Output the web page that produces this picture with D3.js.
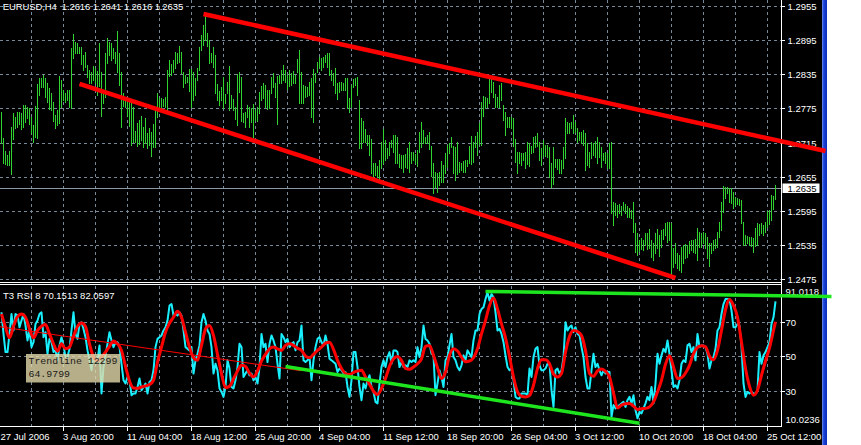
<!DOCTYPE html>
<html><head><meta charset="utf-8">
<script src="https://cdn.jsdelivr.net/npm/d3@7"></script>
<style>
html,body{margin:0;padding:0;background:#fff;overflow:hidden}
svg{display:block}
text{font-family:"Liberation Sans",Arial,sans-serif;font-size:9.5px;fill:#fff}
</style></head><body>
<svg id="c" width="861" height="445"></svg>
<script>
// ---------------- DATA ----------------
const symbolTitle = "EURUSD,H4";
const lastOHLC = [1.2616, 1.2641, 1.2616, 1.2635];
const currentPrice = 1.2635;

const highs = [1.2769,1.2723,1.2700,1.2693,1.2700,1.2742,1.2767,1.2760,1.2769,1.2769,
1.2767,1.2781,1.2781,1.2777,1.2776,1.2760,1.2746,1.2779,1.2818,1.2828,
1.2828,1.2834,1.2828,1.2820,1.2811,1.2802,1.2786,1.2763,1.2772,1.2832,
1.2825,1.2807,1.2802,1.2807,1.2807,1.2881,1.2906,1.2892,1.2890,1.2883,
1.2883,1.2869,1.2874,1.2851,1.2842,1.2839,1.2850,1.2846,1.2841,1.2890,
1.2839,1.2802,1.2872,1.2899,1.2892,1.2890,1.2881,1.2874,1.2911,1.2872,
1.2839,1.2802,1.2793,1.2790,1.2786,1.2790,1.2777,1.2735,1.2749,1.2755,
1.2762,1.2742,1.2758,1.2732,1.2741,1.2733,1.2748,1.2772,1.2802,1.2793,
1.2793,1.2792,1.2795,1.2842,1.2860,1.2853,1.2860,1.2874,1.2872,1.2885,
1.2874,1.2839,1.2834,1.2830,1.2844,1.2844,1.2839,1.2828,1.2846,1.2883,
1.2904,1.2922,1.2941,1.2908,1.2895,1.2872,1.2883,1.2869,1.2818,1.2806,
1.2813,1.2830,1.2800,1.2821,1.2850,1.2799,1.2792,1.2777,1.2835,1.2839,
1.2830,1.2767,1.2769,1.2781,1.2777,1.2776,1.2783,1.2772,1.2777,1.2804,
1.2814,1.2820,1.2816,1.2807,1.2807,1.2830,1.2837,1.2820,1.2832,1.2834,
1.2842,1.2851,1.2842,1.2834,1.2842,1.2837,1.2841,1.2834,1.2862,1.2878,
1.2839,1.2816,1.2814,1.2813,1.2821,1.2828,1.2844,1.2837,1.2857,1.2865,
1.2864,1.2865,1.2869,1.2872,1.2872,1.2842,1.2837,1.2846,1.2820,1.2821,
1.2821,1.2820,1.2828,1.2828,1.2793,1.2816,1.2827,1.2828,1.2830,1.2790,
1.2758,1.2753,1.2739,1.2728,1.2728,1.2721,1.2679,1.2679,1.2674,1.2684,
1.2716,1.2739,1.2719,1.2705,1.2716,1.2719,1.2728,1.2728,1.2725,1.2695,
1.2693,1.2693,1.2695,1.2705,1.2716,1.2698,1.2698,1.2695,1.2702,1.2733,
1.2751,1.2737,1.2725,1.2728,1.2733,1.2709,1.2679,1.2663,1.2661,1.2663,
1.2683,1.2675,1.2697,1.2711,1.2714,1.2725,1.2709,1.2707,1.2716,1.2681,
1.2679,1.2683,1.2684,1.2684,1.2709,1.2726,1.2716,1.2726,1.2733,1.2749,
1.2786,1.2797,1.2795,1.2793,1.2830,1.2830,1.2821,1.2800,1.2795,1.2816,
1.2820,1.2781,1.2769,1.2760,1.2760,1.2760,1.2758,1.2721,1.2698,1.2698,
1.2697,1.2697,1.2698,1.2716,1.2714,1.2709,1.2725,1.2726,1.2732,1.2716,
1.2705,1.2719,1.2711,1.2711,1.2707,1.2679,1.2707,1.2686,1.2686,1.2686,
1.2684,1.2707,1.2758,1.2751,1.2749,1.2751,1.2763,1.2751,1.2741,1.2733,
1.2733,1.2737,1.2732,1.2714,1.2698,1.2716,1.2714,1.2718,1.2725,1.2716,
1.2707,1.2697,1.2698,1.2697,1.2714,1.2716,1.2610,1.2609,1.2605,1.2607,
1.2603,1.2610,1.2607,1.2603,1.2600,1.2596,1.2610,1.2574,1.2556,1.2544,
1.2547,1.2544,1.2556,1.2556,1.2563,1.2544,1.2538,1.2556,1.2563,1.2552,
1.2561,1.2563,1.2574,1.2575,1.2575,1.2574,1.2530,1.2538,1.2521,1.2517,
1.2531,1.2535,1.2537,1.2535,1.2542,1.2544,1.2544,1.2545,1.2565,1.2558,
1.2556,1.2558,1.2556,1.2549,1.2538,1.2538,1.2544,1.2545,1.2558,1.2575,
1.2610,1.2639,1.2637,1.2637,1.2635,1.2635,1.2628,1.2619,1.2617,1.2616,
1.2614,1.2575,1.2552,1.2551,1.2549,1.2549,1.2547,1.2565,1.2574,1.2572,
1.2574,1.2570,1.2575,1.2595,1.2596,1.2623,1.2621,1.2641];

const lows = [1.2714,1.2679,1.2677,1.2675,1.2675,1.2660,1.2721,1.2741,1.2742,1.2748,
1.2739,1.2742,1.2751,1.2758,1.2748,1.2732,1.2716,1.2725,1.2723,1.2799,
1.2813,1.2813,1.2795,1.2786,1.2774,1.2772,1.2753,1.2741,1.2746,1.2749,
1.2777,1.2790,1.2786,1.2790,1.2777,1.2776,1.2864,1.2872,1.2872,1.2872,
1.2853,1.2842,1.2848,1.2830,1.2820,1.2820,1.2825,1.2820,1.2799,1.2814,
1.2762,1.2784,1.2795,1.2855,1.2869,1.2860,1.2864,1.2855,1.2839,1.2816,
1.2742,1.2779,1.2777,1.2762,1.2744,1.2711,1.2716,1.2716,1.2709,1.2712,
1.2719,1.2707,1.2714,1.2705,1.2711,1.2691,1.2707,1.2707,1.2760,1.2772,
1.2776,1.2779,1.2777,1.2772,1.2832,1.2834,1.2839,1.2846,1.2855,1.2857,
1.2837,1.2813,1.2820,1.2821,1.2806,1.2777,1.2790,1.2799,1.2825,1.2842,
1.2878,1.2886,1.2895,1.2885,1.2855,1.2857,1.2848,1.2802,1.2790,1.2781,
1.2790,1.2776,1.2784,1.2802,1.2772,1.2776,1.2772,1.2756,1.2746,1.2804,
1.2753,1.2751,1.2742,1.2760,1.2742,1.2751,1.2723,1.2755,1.2753,1.2767,
1.2790,1.2793,1.2777,1.2774,1.2776,1.2802,1.2813,1.2795,1.2748,1.2820,
1.2820,1.2825,1.2821,1.2809,1.2814,1.2816,1.2820,1.2820,1.2839,1.2784,
1.2784,1.2784,1.2795,1.2797,1.2799,1.2760,1.2751,1.2821,1.2839,1.2848,
1.2842,1.2848,1.2857,1.2848,1.2834,1.2825,1.2816,1.2802,1.2792,1.2804,
1.2807,1.2807,1.2807,1.2776,1.2769,1.2777,1.2813,1.2816,1.2799,1.2705,
1.2705,1.2716,1.2716,1.2711,1.2693,1.2661,1.2654,1.2658,1.2654,1.2649,
1.2670,1.2679,1.2684,1.2688,1.2693,1.2707,1.2698,1.2679,1.2679,1.2672,
1.2670,1.2663,1.2672,1.2670,1.2663,1.2679,1.2684,1.2679,1.2674,1.2698,
1.2707,1.2714,1.2714,1.2714,1.2704,1.2656,1.2626,1.2637,1.2628,1.2640,
1.2646,1.2646,1.2661,1.2672,1.2697,1.2707,1.2661,1.2649,1.2660,1.2663,
1.2667,1.2663,1.2663,1.2674,1.2679,1.2677,1.2681,1.2707,1.2693,1.2712,
1.2711,1.2762,1.2776,1.2777,1.2784,1.2804,1.2795,1.2777,1.2777,1.2777,
1.2790,1.2755,1.2728,1.2742,1.2742,1.2741,1.2709,1.2681,1.2661,1.2679,
1.2675,1.2684,1.2670,1.2677,1.2674,1.2697,1.2698,1.2707,1.2709,1.2684,
1.2675,1.2691,1.2691,1.2690,1.2654,1.2637,1.2642,1.2672,1.2668,1.2661,
1.2661,1.2670,1.2688,1.2732,1.2732,1.2741,1.2732,1.2733,1.2716,1.2719,
1.2714,1.2711,1.2667,1.2675,1.2672,1.2688,1.2693,1.2690,1.2679,1.2690,
1.2672,1.2684,1.2679,1.2670,1.2670,1.2591,1.2570,1.2588,1.2584,1.2591,
1.2588,1.2596,1.2591,1.2584,1.2584,1.2582,1.2558,1.2523,1.2517,1.2524,
1.2528,1.2526,1.2535,1.2528,1.2530,1.2514,1.2508,1.2521,1.2530,1.2515,
1.2531,1.2545,1.2552,1.2540,1.2544,1.2479,1.2496,1.2503,1.2494,1.2491,
1.2487,1.2503,1.2512,1.2514,1.2521,1.2526,1.2523,1.2521,1.2508,1.2531,
1.2531,1.2538,1.2530,1.2512,1.2498,1.2521,1.2526,1.2530,1.2531,1.2549,
1.2561,1.2593,1.2617,1.2626,1.2610,1.2609,1.2600,1.2605,1.2607,1.2605,
1.2574,1.2535,1.2535,1.2538,1.2535,1.2533,1.2523,1.2533,1.2535,1.2552,
1.2556,1.2552,1.2558,1.2567,1.2572,1.2579,1.2598,1.2616];

// RSI(8), one value per bar
const rsi = [75.7,63.1,52.5,52.5,63.1,74.7,65.1,74.7,73.8,67.0,
70.9,74.7,68.0,59.3,65.1,55.4,58.3,68.9,70.9,74.7,
75.7,61.2,64.1,51.5,60.2,58.3,52.5,53.5,47.7,56.4,
61.2,56.4,49.6,49.6,54.4,65.1,75.7,63.1,60.2,68.9,
69.9,66.0,61.2,53.5,47.7,41.9,50.6,45.7,47.7,56.4,
28.4,43.8,50.6,57.3,64.1,59.3,55.4,58.3,58.3,55.4,
45.7,36.1,34.2,38.0,36.1,27.4,28.4,28.4,32.2,37.1,
30.3,32.2,34.2,28.4,35.1,36.1,41.9,55.4,60.2,61.2,
62.2,65.1,67.0,70.9,79.6,80.5,73.8,74.7,73.8,75.7,
73.8,65.1,55.4,54.4,53.5,55.4,40.0,47.7,51.5,56.4,
69.9,74.7,70.9,65.1,63.1,55.4,40.0,45.7,41.9,31.3,
29.3,26.4,32.2,47.7,42.9,32.2,31.3,36.1,43.8,57.3,
55.4,38.0,40.0,41.9,39.0,40.0,36.1,38.0,34.2,43.8,
63.1,55.4,57.3,46.7,57.3,62.2,59.3,55.4,45.7,37.1,
63.1,61.2,58.3,60.2,55.4,57.3,58.3,53.5,58.3,59.3,
68.0,47.7,46.7,47.7,49.6,36.1,47.7,55.4,60.2,61.2,
58.3,56.4,62.2,57.3,48.6,47.7,46.7,45.7,40.9,42.9,
41.9,40.0,40.9,32.2,26.4,36.1,52.5,52.5,43.8,32.2,
24.5,34.2,31.3,36.1,39.0,32.2,29.3,23.5,22.6,34.2,
43.8,47.7,43.8,49.6,52.5,45.7,53.5,53.5,52.5,43.8,
46.7,43.8,44.8,43.8,47.7,46.7,47.7,46.7,55.4,49.6,
55.4,68.0,60.2,59.3,57.3,51.5,50.6,27.4,34.2,41.9,
38.0,32.2,47.7,49.6,56.4,63.1,49.6,47.7,43.8,41.9,
44.8,50.6,47.7,53.5,51.5,49.6,59.3,65.1,65.1,74.7,
77.6,78.6,83.4,87.3,82.5,86.3,84.4,75.7,65.1,66.0,
63.1,58.3,50.6,43.8,41.9,42.9,36.1,26.4,25.5,25.5,
28.4,28.4,28.4,27.4,42.9,38.0,49.6,54.4,55.4,44.8,
41.9,41.9,42.9,45.7,45.7,30.3,20.6,41.9,42.9,40.0,
41.9,49.6,69.9,65.1,67.0,68.0,64.1,67.0,63.1,62.2,
55.4,49.6,38.0,31.3,31.3,41.9,51.5,43.8,45.7,41.9,
39.0,41.9,40.0,40.9,40.9,14.8,21.6,19.7,20.6,21.6,
22.6,23.5,20.6,24.5,26.4,22.6,27.4,18.7,13.9,17.7,
16.8,19.7,22.6,26.4,24.5,32.2,22.6,34.2,51.5,45.7,
50.6,54.4,52.5,59.3,51.5,41.9,32.2,33.2,31.3,36.1,
45.7,47.7,46.7,56.4,57.3,52.5,55.4,47.7,63.1,55.4,
56.4,56.4,55.4,51.5,42.9,47.7,49.6,54.4,65.1,67.0,
74.7,80.5,83.4,83.4,83.4,76.7,67.0,67.0,68.9,68.0,
55.4,34.2,26.4,29.3,28.4,29.3,28.4,28.4,30.3,52.5,
45.7,50.6,52.5,55.4,58.3,68.9,72.8,82.0597];

// T3 of RSI, read every second bar (bars 0,2,...,386), plus the last bar
const t3Even = [74.7,67.0,60.8,67.6,73.2,74.7,72.8,66.0,60.8,65.1,
67.6,68.6,63.1,57.3,53.1,57.3,54.4,55.4,61.8,67.4,
69.5,67.4,57.3,49.6,47.3,49.6,52.5,55.8,58.9,57.3,
53.5,44.2,35.7,31.6,31.4,32.2,32.8,33.6,36.1,46.7,
55.4,64.1,69.3,72.8,76.3,72.8,64.1,55.4,49.2,47.7,
56.4,66.0,68.0,62.2,51.2,40.0,31.8,32.6,36.9,41.5,
44.8,44.2,40.3,38.0,41.5,47.3,51.2,54.4,55.4,54.4,
53.5,56.4,57.3,56.4,54.8,53.5,50.2,49.2,51.2,53.5,
55.4,57.7,58.3,54.1,47.7,42.9,40.0,39.4,40.7,41.5,
41.9,38.0,33.8,29.7,27.8,31.3,37.1,44.2,48.6,50.0,
47.7,43.0,42.5,43.8,45.7,48.6,55.8,56.4,50.6,43.4,
37.1,40.9,50.6,54.4,53.1,49.6,46.9,47.3,49.2,54.4,
63.1,70.9,79.6,84.0,77.6,68.9,60.8,50.0,38.0,29.3,
26.8,26.4,27.2,33.2,42.9,48.1,48.1,45.7,39.6,38.0,
40.0,52.5,61.6,65.1,64.5,62.2,53.5,40.0,38.4,41.5,
42.7,41.3,38.0,28.7,20.0,21.6,22.4,22.6,21.0,19.1,
19.5,19.7,20.6,23.5,29.3,36.1,45.4,50.4,43.8,37.1,
37.6,40.3,44.8,51.5,55.2,56.2,55.6,50.0,48.1,53.5,
65.1,77.1,83.2,79.6,72.8,58.3,42.9,32.6,27.4,30.3,
39.0,47.3,55.0,65.1];
const t3Last = 70.1513;

const priceTicks = [1.2955,1.2895,1.2835,1.2775,1.2715,1.2655,1.2595,1.2535,1.2475];
const rsiTicks = [70,50,30];
const rsiMin = 10.0236, rsiMax = 91.0118;
const timeLabels = ["27 Jul 2006","3 Aug 20:00","11 Aug 04:00","18 Aug 12:00","25 Aug 20:00","4 Sep 04:00","11 Sep 12:00","18 Sep 20:00","26 Sep 04:00","3 Oct 12:00","10 Oct 20:00","18 Oct 04:00","25 Oct 12:00"];
const timeLabelBars = [-1,31,63,95,127,159,191,223,255,287,319,351,383];
const gridBars = [15,31,47,63,79,95,111,127,143,159,175,191,207,223,239,255,271,287,303,319,335,351,367,383];
// trend lines: [bar, value] pairs
const priceTrendlines = [[[101,1.2941],[412,1.2700]], [[39,1.2818],[337,1.2477]]];
const rsiTrendlines = [[[142,44.1],[319,11.0]], [[242,87.8],[415,84.9]]];
const rsiDragLine = [[-1,67.3],[150,41.6]];
const tooltipText = ["Trendline 12299","64.9799"];

// ---------------- DRAW ----------------
const svg = d3.select("#c");
const W = 861, H = 445;
const plotRight = 781.5;
const mainTop = 0, mainBottom = 282.5, rsiTop = 284.5, rsiBottom = 426;

const x = d3.scaleLinear().domain([0, 387]).range([1.5, 775.5]);
const y = d3.scaleLinear().domain([1.2475, 1.2955]).range([279, 6]);
const yr = d3.scaleLinear().domain([rsiMin, rsiMax]).range([425, 286]);

// background
svg.append("rect").attr("width", W).attr("height", H).attr("fill", "#fff");
svg.append("rect").attr("width", 822).attr("height", H).attr("fill", "#000");
const grad = svg.append("defs").append("linearGradient").attr("id","bl").attr("x1","0").attr("x2","1");
grad.append("stop").attr("offset","0").attr("stop-color","#6f8fe8");
grad.append("stop").attr("offset","0.35").attr("stop-color","#1c44d8");
grad.append("stop").attr("offset","1").attr("stop-color","#0a2cb8");
svg.append("rect").attr("x", 822).attr("y", 0).attr("width", 5).attr("height", H).attr("fill", "url(#bl)");

const gridColor = "#778899";
const g = svg.append("g").attr("shape-rendering","crispEdges");
// vertical grid
gridBars.forEach(b => {
  const xx = Math.round(x(b) - 0.5) + 0.5;
  g.append("line").attr("x1", xx).attr("x2", xx).attr("y1", mainTop).attr("y2", 281)
    .attr("stroke", gridColor).attr("stroke-dasharray", "3,3");
  g.append("line").attr("x1", xx).attr("x2", xx).attr("y1", rsiTop + 1).attr("y2", rsiBottom)
    .attr("stroke", gridColor).attr("stroke-dasharray", "3,3");
});
// horizontal price grid
priceTicks.forEach(p => {
  const yy = Math.round(y(p)) + 0.5;
  g.append("line").attr("x1", 0).attr("x2", plotRight).attr("y1", yy).attr("y2", yy)
    .attr("stroke", gridColor).attr("stroke-dasharray", "3,3");
});
rsiTicks.forEach(v => {
  const yy = Math.round(yr(v)) + 0.5;
  g.append("line").attr("x1", 0).attr("x2", plotRight).attr("y1", yy).attr("y2", yy)
    .attr("stroke", gridColor).attr("stroke-dasharray", "3,3");
});
// current price line
const cpY = Math.round(y(currentPrice)) + 0.5;
g.append("line").attr("x1", 0).attr("x2", plotRight).attr("y1", cpY).attr("y2", cpY).attr("stroke", "#8c9ba8");

// bars
svg.append("g").attr("shape-rendering","crispEdges").selectAll("line").data(highs).join("line")
  .attr("x1", (d,i) => x(i)).attr("x2", (d,i) => x(i))
  .attr("y1", d => Math.round(y(d))).attr("y2", (d,i) => Math.round(y(lows[i])) + 1)
  .attr("stroke", "#2fd22f").attr("stroke-width", 1);

// frames
const fr = svg.append("g").attr("shape-rendering","crispEdges").attr("stroke","#fff").attr("fill","none");
fr.append("line").attr("x1",0).attr("x2",plotRight).attr("y1",mainBottom).attr("y2",mainBottom);
fr.append("line").attr("x1",0).attr("x2",plotRight).attr("y1",rsiTop).attr("y2",rsiTop);
fr.append("line").attr("x1",0).attr("x2",plotRight).attr("y1",rsiBottom+0.5).attr("y2",rsiBottom+0.5);
fr.append("line").attr("x1",plotRight).attr("x2",plotRight).attr("y1",0).attr("y2",rsiBottom+0.5);

// price axis labels
const axg = svg.append("g");
priceTicks.forEach(p => {
  const yy = Math.round(y(p)) + 0.5;
  axg.append("line").attr("x1", plotRight).attr("x2", plotRight + 3).attr("y1", yy).attr("y2", yy)
    .attr("stroke", "#fff").attr("shape-rendering","crispEdges");
  axg.append("text").attr("x", 787.5).attr("y", yy + 3.5).text(p.toFixed(4));
});
// current price box
axg.append("rect").attr("x", 782.5).attr("y", cpY - 5).attr("width", 37).attr("height", 9.5).attr("fill", "#fff");
axg.append("text").attr("x", 787.5).attr("y", cpY + 3.5).style("fill", "#000").text(currentPrice.toFixed(4));

// RSI axis labels
rsiTicks.forEach(v => {
  const yy = Math.round(yr(v)) + 0.5;
  axg.append("line").attr("x1", plotRight).attr("x2", plotRight + 3).attr("y1", yy).attr("y2", yy)
    .attr("stroke", "#fff").attr("shape-rendering","crispEdges");
  axg.append("text").attr("x", 785.5).attr("y", yy + 3.5).text(String(v));
});
axg.append("text").attr("x", 785.5).attr("y", yr(rsiMax) + 9.2).text(rsiMax.toFixed(4));
axg.append("text").attr("x", 785.5).attr("y", yr(rsiMin) - 2.3).text(rsiMin.toFixed(4));

// time axis
timeLabels.forEach((t, k) => {
  const xx = Math.round(x(timeLabelBars[k]) - 0.5) + 0.5;
  axg.append("line").attr("x1", xx).attr("x2", xx).attr("y1", rsiBottom).attr("y2", rsiBottom + 5)
    .attr("stroke", "#fff").attr("shape-rendering","crispEdges");
  axg.append("text").attr("x", Math.max(0.5, xx - 0.5)).attr("y", 439.5).text(t);
});

// titles
svg.append("text").attr("x", 2.7).attr("y", 10).attr("textLength", 180.5).attr("lengthAdjust", "spacing")
  .attr("xml:space", "preserve").style("white-space","pre")
  .text(symbolTitle + "  " + lastOHLC.map(v => v.toFixed(4)).join(" "));
svg.append("text").attr("x", 3).attr("y", 298.8)
  .text("T3 RSI 8 " + t3Last.toFixed(4) + " " + rsi[rsi.length-1].toFixed(4));

// RSI lines
const rsiLine = d3.line().x((d,i) => x(i)).y(d => yr(d));
svg.append("path").datum(rsi).attr("d", rsiLine).attr("fill","none")
  .attr("stroke", "#19f0ff").attr("stroke-width", 2).attr("stroke-linejoin","round");
const t3Pts = t3Even.map((v, k) => [2*k, v]).concat([[387, t3Last]]);
svg.append("path").datum(t3Pts)
  .attr("d", d3.line().x(d => x(d[0])).y(d => yr(d[1])).curve(d3.curveMonotoneX))
  .attr("fill","none").attr("stroke", "#ff0000").attr("stroke-width", 3).attr("stroke-linejoin","round");

// thin drag trendline in RSI
svg.append("line")
  .attr("x1", x(rsiDragLine[0][0])).attr("y1", yr(rsiDragLine[0][1]))
  .attr("x2", x(rsiDragLine[1][0])).attr("y2", yr(rsiDragLine[1][1]))
  .attr("stroke", "#ff0000").attr("stroke-width", 1);

// tooltip
const tip = svg.append("g");
const tx = x(12.25), ty = yr(51.4);
tip.append("rect").attr("x", tx).attr("y", ty).attr("width", 94).attr("height", 28.5)
  .attr("fill", "rgb(228,218,170)").attr("fill-opacity", 0.8);
tooltipText.forEach((t, k) => {
  tip.append("text").attr("x", tx + 2.5).attr("y", ty + 10.5 + k * 13)
    .style("font-family", "'Liberation Mono','DejaVu Sans Mono',monospace").style("font-size", "9.9px")
    .style("fill", "#1a1a1a").text(t);
});

// RSI trendlines (green)
rsiTrendlines.forEach(l => {
  svg.append("line").attr("x1", x(l[0][0])).attr("y1", yr(l[0][1]))
    .attr("x2", x(l[1][0])).attr("y2", yr(l[1][1]))
    .attr("stroke", "#1ee61e").attr("stroke-width", 3.5);
});
// price trendlines (red)
priceTrendlines.forEach(l => {
  svg.append("line").attr("x1", x(l[0][0])).attr("y1", y(l[0][1]))
    .attr("x2", x(l[1][0])).attr("y2", y(l[1][1]))
    .attr("stroke", "#ff0000").attr("stroke-width", 4.5);
});
</script>
</body></html>
